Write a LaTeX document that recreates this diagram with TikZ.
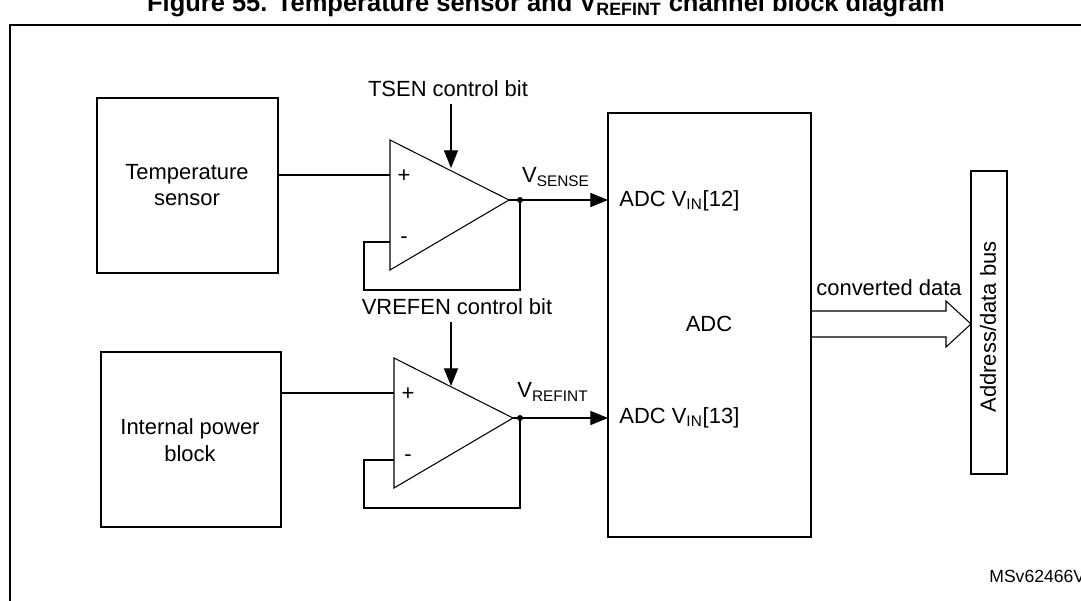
\documentclass[tikz,border=0pt]{standalone}
\usepackage{fontspec}
\setmainfont{Liberation Sans}
\usetikzlibrary{arrows.meta}
\begin{document}
\begin{tikzpicture}[x=0.02cm,y=-0.02cm,font=\fontsize{12.5}{15}\selectfont,
  blk/.style={draw,line width=1.2pt},
  wire/.style={line width=0.6pt},
  sig/.style={wire,-{Triangle[length=10pt,width=8pt]}},
  lbl/.style={inner sep=0pt}]
\useasboundingbox (0,0) rectangle (1081,601);
\node[font=\bfseries\fontsize{14.5}{17}\selectfont,anchor=base] (title) at (546,12) {Figure 55. Temperature sensor and V\textsubscript{REFINT} channel block diagram};
\draw[line width=1.2pt] (10,620) -- (10,25) -- (1100,25);

\draw[blk] (97,98) rectangle (278,273);
\node[align=center,lbl] (ts) at (187,185) {Temperature\\sensor};
\draw[blk] (101,352) rectangle (281,527);
\node[align=center,lbl] (ipb) at (190,440) {Internal power\\block};

% amplifiers
\foreach \n/\y/\dx/\t/\lx in {1/0/0/TSEN/448, 2/218/4/VREFEN/457}{
  \coordinate (a\n t) at (390+\dx,140+\y);
  \coordinate (a\n b) at (390+\dx,270+\y);
  \coordinate (a\n o) at (509+\dx,200+\y);
  \coordinate (a\n d) at (520,200+\y);
  \draw[wire] (a\n t) -- (a\n o) -- (a\n b) -- cycle;
  \node[lbl] at (404+\dx,176+\y) {+};
  \node[lbl] at (404+\dx,240+\y) {-};
  \draw[wire] (390+\dx,242+\y) -- (364,242+\y) -- (364,290+\y) -- (520,290+\y) -- (a\n d);
  \draw[wire] (a\n o) -- (a\n d);
  \fill (a\n d) circle (3);
  \node[lbl] (c\n) at (\lx,89+\y) {\t{} control bit};
  \draw[sig] (451,104+\y) -- (451,168+\y);
}
\draw[wire] (278,175) -- (390,175);
\draw[wire] (281,393) -- (394,393);

% ADC
\draw[blk] (608,113) rectangle (811,537);
\node[lbl,anchor=west] (in12) at (619,201) {ADC V\textsubscript{IN}[12]};
\node[lbl,anchor=west] (in13) at (619,418) {ADC V\textsubscript{IN}[13]};
\node[lbl] (adc) at (709,324) {ADC};
\draw[sig] (a1d) -- (608,200);
\draw[sig] (a2d) -- (608,418);
\node[lbl] (vs) at (556,177) {V\textsubscript{SENSE}};
\node[lbl] (vr) at (553,392) {V\textsubscript{REFINT}};

% bus
\draw[wire] (971,171) rectangle (1007,474);
\node[lbl,rotate=90] (bus) at (988,327) {Address/data bus};
\draw[wire] (811,311) -- (946,311) -- (946,301) -- (971,324) -- (946,347) -- (946,337) -- (811,337);
\node[lbl] (cd) at (889,288) {converted data};

\node[lbl,anchor=west,font=\fontsize{10}{12}\selectfont] (id) at (989,576) {MSv62466V1};
\end{tikzpicture}
\end{document}
